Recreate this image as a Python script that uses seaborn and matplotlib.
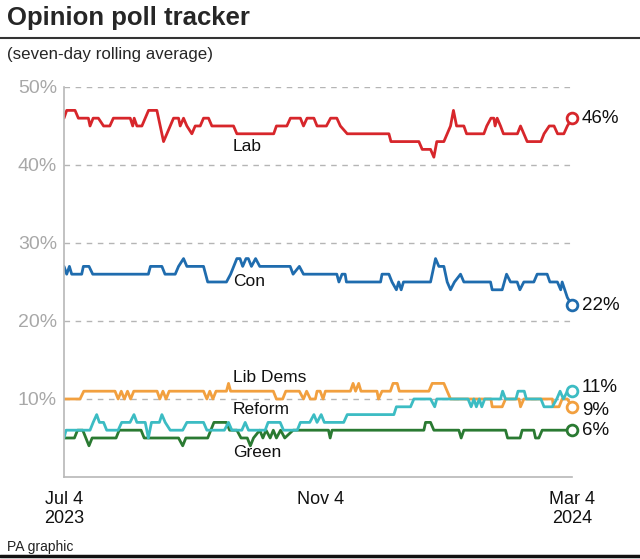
import matplotlib
matplotlib.use("Agg")
import matplotlib.pyplot as plt
import seaborn as sns
import pandas as pd

# (days after 4 Jul 2023, poll %)
lab = [(0, 46), (1.3, 47), (5.3, 47), (6.9, 46), (11.7, 46), (12.5, 45), (14, 46), (16.5, 46), (19, 45), (22, 45),
       (23.7, 46), (31.8, 46), (33, 45), (33.7, 46), (35, 45), (37.4, 45), (39, 46), (40.6, 47), (44.6, 47), (45.4, 46),
       (47, 44), (47.8, 43), (49.4, 44), (51, 45), (52.6, 46), (55, 46), (55.8, 45), (57.4, 46), (59, 45), (61.4, 44),
       (63, 45), (65.4, 45), (67, 46), (69.4, 46), (71, 45), (81.4, 45), (83, 44), (100.7, 44), (102, 45), (107, 45),
       (108.7, 46), (113.5, 46), (115, 45), (116.7, 46), (120, 46), (121.5, 45), (126, 45), (128, 46), (131, 46),
       (132.7, 45), (136, 44), (156, 44), (157, 43), (170.4, 43), (172, 42), (176, 42), (177.6, 41), (179, 43),
       (182.4, 43), (184, 44), (185.6, 45), (187, 47), (188.5, 45), (192, 45), (193.3, 44), (201.6, 44), (203, 45),
       (205, 46), (206.4, 46), (207, 45), (208, 46), (209.6, 45), (211, 44), (217.7, 44), (219.2, 45), (220.8, 44),
       (222.4, 43), (229, 43), (230.5, 44), (233, 45), (235.3, 45), (237, 44), (240, 44), (241.7, 45), (244, 46)]

con = [(0, 27), (1.3, 26), (2.6, 27), (3.7, 26), (8.5, 26), (9.3, 27), (12, 27), (13.8, 26), (40.5, 26), (41.5, 27),
       (47, 27), (48.5, 26), (53.4, 26), (55, 27), (57.4, 28), (59, 27), (67, 27), (69, 25), (78, 25), (80, 26),
       (81.5, 27), (83, 28), (84.5, 28), (85.8, 27), (87.4, 28), (88.5, 28), (90, 27), (92, 28), (94, 27), (108.6, 27),
       (110, 26), (113, 27), (115, 26), (131, 26), (132, 25), (133.5, 26), (135, 26), (135.6, 25), (152, 25),
       (152.7, 26), (156, 26), (157.5, 25), (159.6, 24), (160.7, 25), (161.9, 24), (163, 25), (176, 25), (178.4, 28),
       (180, 27), (182.4, 27), (184, 25), (185.6, 24), (187.5, 25), (190.4, 26), (192, 25), (204.8, 25), (205.6, 24),
       (210.4, 24), (212.5, 26), (214.4, 25), (217.6, 25), (218.9, 24), (220.8, 25), (225.6, 25), (227.2, 26),
       (232, 26), (233.3, 25), (236.9, 25), (238.5, 24), (239.2, 25), (241.7, 23), (244, 22)]

libdem = [(0, 10), (7.7, 10), (9.5, 11), (24.5, 11), (26, 10), (27.5, 11), (29, 10), (30.5, 11), (32, 10), (33.5, 11),
          (44.7, 11), (46, 10), (47.5, 11), (49, 10), (50.5, 11), (67, 11), (68.6, 10), (70, 11), (71.5, 10), (73, 11),
          (78, 11), (79, 12), (80, 11), (100.5, 11), (102, 10), (105, 10), (106.5, 11), (113, 11), (115, 10),
          (116.5, 11), (118.3, 10), (120.7, 10), (121.5, 11), (123, 11), (124.4, 10), (125.5, 11), (137.5, 11),
          (138.8, 12), (140, 11), (141.5, 12), (142.6, 11), (150.3, 11), (151, 10), (152.7, 11), (156.7, 11), (158, 12),
          (160, 12), (161, 11), (175.2, 11), (176.8, 12), (182.4, 12), (184, 11), (185.6, 10), (205, 10), (205.6, 9),
          (210.4, 9), (212, 10), (218.5, 10), (219.2, 9), (220.8, 10), (234.5, 10), (235, 9), (237.7, 9), (239.2, 10),
          (241.7, 10), (244, 9)]

reform = [(0, 5), (1, 6), (12.5, 6), (14, 7), (15.7, 8), (17, 7), (19, 7), (20.5, 6), (26, 6), (27.7, 7), (31.7, 7),
          (33.6, 8), (35, 7), (39, 7), (40.5, 5), (42, 7), (45.8, 7), (47, 8), (48.6, 7), (51, 6), (57, 6), (59, 7),
          (67, 7), (68.6, 6), (77, 6), (79, 7), (80.6, 6), (85.4, 6), (87, 7), (88.6, 6), (96.6, 6), (98, 7),
          (103.8, 7), (105.4, 6), (112, 6), (113.5, 7), (118, 7), (120, 8), (121.5, 7), (123.5, 8), (125, 7),
          (134.3, 7), (136, 8), (158.4, 8), (159.6, 9), (166.4, 9), (168, 10), (176, 10), (178, 9), (179, 10),
          (194, 10), (195.5, 9), (196.8, 10), (198, 9), (199.4, 10), (200.6, 9), (202, 10), (209.6, 10), (210.6, 11),
          (212, 10), (217, 10), (218, 11), (221, 11), (222, 10), (229, 10), (230.5, 9), (234.5, 9), (236.6, 10),
          (238.2, 11), (239.8, 10), (241.7, 11), (244, 11)]

green = [(0, 5), (5, 5), (6.5, 6), (9, 6), (10.5, 5), (12, 4), (13.5, 5), (25, 5), (26.5, 6), (37, 6), (38.5, 5),
         (55, 5), (57, 4), (58.5, 5), (69, 5), (70.5, 6), (72, 7), (78, 7), (79.5, 6), (83, 6), (85, 5), (88, 5),
         (89.5, 4), (91, 5), (94, 6), (95.5, 5), (97, 6), (99, 5), (100.5, 6), (102, 5), (104, 6), (106, 5), (110, 6),
         (127, 6), (127.8, 5), (128.7, 6), (172.8, 6), (173.6, 7), (176, 7), (177.6, 6), (189.6, 6), (190.7, 5),
         (192, 6), (212, 6), (213, 5), (219, 5), (220, 6), (225.6, 6), (226.4, 5), (228, 5), (229.6, 6), (244, 6)]

parties = ["Lab", "Con", "Green", "Lib Dems", "Reform"]
series = {"Lab": lab, "Con": con, "Green": green, "Lib Dems": libdem, "Reform": reform}
colors = {"Lab": "#d7262b", "Con": "#1f6cae", "Lib Dems": "#f2a03f", "Reform": "#3cbcc3", "Green": "#2a7a32"}

# label positions (day, %) for party names
name_pos = {"Lab": (81, 42.4), "Con": (81, 25.0), "Lib Dems": (81, 12.7), "Reform": (81, 8.7), "Green": (81, 3.2)}
end_offset = {"Lab": 0, "Con": 0, "Lib Dems": -2.5, "Reform": 2.5, "Green": 0}

start = pd.Timestamp("2023-07-04")
end = pd.Timestamp("2024-03-04")

rows = []
for p in parties:
    for d, v in series[p]:
        rows.append({"party": p, "date": start + pd.to_timedelta(d, unit="D"), "value": v})
df = pd.DataFrame(rows)

sns.set_style("white")
plt.rcParams["font.family"] = ["Liberation Sans", "DejaVu Sans"]

fig = plt.figure(figsize=(6.4, 5.59), dpi=100)
ax = fig.add_axes([0.1, 0.1467, 0.794, 0.6977])

for p in parties:
    sub = df[df["party"] == p]
    sns.lineplot(data=sub, x="date", y="value", ax=ax, color=colors[p], lw=2.0,
                 estimator=None, sort=False, legend=False)
    last = sub.iloc[-1]
    ax.scatter([last["date"]], [last["value"]], s=60, facecolor="white", edgecolor=colors[p],
               linewidth=2, zorder=5, clip_on=False)
    ax.annotate(f"{int(last['value'])}%", (last["date"], last["value"]), xytext=(7, end_offset[p]),
                textcoords="offset points", va="center", ha="left", fontsize=13.5, color="#111111")
    nd, nv = name_pos[p]
    ax.text(start + pd.to_timedelta(nd, unit="D"), nv, p, fontsize=12.5, color="#111111", va="center", ha="left")

ax.set_xlim(start, end)
ax.set_ylim(0, 50)
ax.set_yticks([10, 20, 30, 40, 50])
ax.set_yticklabels(["10%", "20%", "30%", "40%", "50%"], fontsize=14, color="#a8a8a8")
ax.set_xticks([start, pd.Timestamp("2023-11-04"), end])
ax.set_xticklabels(["Jul 4\n2023", "Nov 4", "Mar 4\n2024"], fontsize=13, color="#111111", va="top")
ax.tick_params(axis="both", length=0)
ax.tick_params(axis="y", pad=5)
ax.tick_params(axis="x", pad=10)
ax.set_xlabel("")
ax.set_ylabel("")
ax.grid(axis="y", linestyle=(0, (4, 4)), color="#b5b5b5", lw=1)
ax.grid(axis="x", visible=False)
for s in ["top", "right"]:
    ax.spines[s].set_visible(False)
for s in ["left", "bottom"]:
    ax.spines[s].set_color("#b8b8b8")
    ax.spines[s].set_linewidth(1.2)

fig.text(0.011, 0.967, "Opinion poll tracker", fontsize=18.5, fontweight="bold", va="center", ha="left")
fig.add_artist(plt.Line2D([0, 1], [0.932, 0.932], color="#333333", lw=1.5))
fig.text(0.011, 0.902, "(seven-day rolling average)", fontsize=12.2, va="center", ha="left")
fig.text(0.011, 0.021, "PA graphic", fontsize=10, va="center", ha="left", color="#222222")
fig.add_artist(plt.Line2D([0, 1], [0.005, 0.005], color="#111111", lw=2.5))

fig.savefig("out.png", dpi=100)
